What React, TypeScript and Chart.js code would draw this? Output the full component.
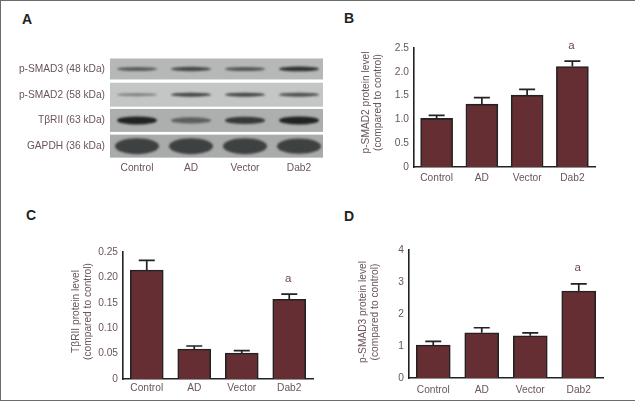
import React, { useEffect, useRef } from "react";
import { Chart, registerables } from "chart.js";

Chart.register(...registerables);

// ---------- data ----------
const groups = ["Control", "AD", "Vector", "Dab2"];

const blotProteins = ["p-SMAD3 (48 kDa)", "p-SMAD2 (58 kDa)", "TβRII (63 kDa)", "GAPDH (36 kDa)"];
const smad3Band = [0.55, 0.7, 0.6, 0.88];
const smad2Band = [0.33, 0.75, 0.75, 0.68];
const tbrBand = [1.0, 0.5, 0.82, 1.0];
const gapdhBand = [1.0, 1.0, 1.0, 0.92];

const smad2Values = [1.02, 1.32, 1.51, 2.11];
const smad2ErrorTop = [1.086, 1.456, 1.63, 2.226];
const smad2Ticks = ["0", "0.5", "1.0", "1.5", "2.0", "2.5"];
const smad2Sig = 2.54;

const tbrValues = [0.2146, 0.059, 0.051, 0.157];
const tbrErrorTop = [0.2337, 0.065, 0.0557, 0.167];
const tbrTicks = ["0", "0.05", "0.10", "0.15", "0.20", "0.25"];
const tbrSig = 0.197;

const smad3Values = [1.03, 1.415, 1.32, 2.72];
const smad3ErrorTop = [1.147, 1.57, 1.41, 2.94];
const smad3Ticks = ["0", "1", "2", "3", "4"];
const smad3Sig = 3.44;

// ---------- style ----------
const FONT = "'Liberation Sans', Arial, sans-serif";
const TEXT = "#6a5558";
const BAR = "#652e33";
const INK = "#222222";
const font = { family: FONT, size: 10.2 };

// plugin: upward error bars and significance letter, read through the scales
const annotations = {
  id: "annotations",
  afterDatasetsDraw(chart: any, _a: any, opts: any) {
    if (!opts.errorTop) return;
    const { ctx, scales } = chart;
    const { x, y } = scales;
    ctx.save();
    ctx.strokeStyle = INK;
    ctx.lineWidth = 1.7;
    opts.errorTop.forEach((top: number, i: number) => {
      const cx = x.getPixelForValue(i);
      const py = y.getPixelForValue(top);
      const by = y.getPixelForValue(chart.data.datasets[0].data[i]);
      ctx.beginPath();
      ctx.moveTo(cx, by);
      ctx.lineTo(cx, py);
      ctx.moveTo(cx - 8, py);
      ctx.lineTo(cx + 8, py);
      ctx.stroke();
    });
    ctx.fillStyle = "#6a474b";
    ctx.font = `11.5px ${FONT}`;
    ctx.textAlign = "center";
    ctx.textBaseline = "middle";
    ctx.fillText("a", x.getPixelForValue(3) - 1, y.getPixelForValue(opts.sig));
    ctx.restore();
  },
};

// plugin: shifts the axis title along the axis
const titleShift = {
  id: "titleShift",
  afterLayout(chart: any, _a: any, opts: any) {
    const s = chart.scales.y;
    if (!opts.dy || s.__shifted) return;
    const orig = s.drawTitle;
    s.drawTitle = function (...args: any[]) {
      chart.ctx.save();
      chart.ctx.translate(0, opts.dy);
      orig.apply(this, args);
      chart.ctx.restore();
    };
    s.__shifted = true;
  },
};

// plugin: western-blot strips, one band per lane, darkness from the band arrays
const stripHalf = [10.5, 12, 11.5, 11.5];
const stripShade = ["#b6b8b7", "#c4c6c5", "#adafae", "#a9abaa"];
const bandThick = [5, 4.5, 8, 16];
const bandWidth = [40, 40, 40, 44];
const bandRows = [smad3Band, smad2Band, tbrBand, gapdhBand];
const blotStrips = {
  id: "blotStrips",
  beforeDatasetsDraw(chart: any) {
    const { ctx, scales, chartArea } = chart;
    const { x, y } = scales;
    ctx.save();
    bandRows.forEach((row, r) => {
      const cy = y.getPixelForValue(r);
      ctx.filter = "none";
      ctx.fillStyle = stripShade[r];
      ctx.fillRect(chartArea.left, cy - stripHalf[r], chartArea.width - 3, stripHalf[r] * 2);
      ctx.filter = "blur(1.2px)";
      row.forEach((v, i) => {
        const isGapdh = r === 3;
        ctx.fillStyle = `rgba(32,34,36,${isGapdh ? 0.78 : Math.min(1, 0.15 + v * 0.85)})`;
        ctx.beginPath();
        ctx.ellipse(
          x.getPixelForValue(i),
          cy,
          bandWidth[r] / 2,
          (bandThick[r] * (0.55 + 0.45 * v)) / 2,
          0,
          0,
          Math.PI * 2
        );
        ctx.fill();
      });
    });
    ctx.restore();
  },
};

type Panel = {
  left: number; top: number; width: number; height: number;
  yWidth: number; xHeight: number; padTop: number; padRight: number; tickPad: number;
  max: number; step: number; thickness: number; dy: number;
  values: number[]; errorTop: number[]; ticks: string[]; sig: number; title: string[];
};

const panels: Panel[] = [
  { left: 355, top: 30, width: 260, height: 160, yWidth: 59, xHeight: 23, padTop: 18, padRight: 20, tickPad: 2,
    max: 2.5, step: 0.5, thickness: 32, dy: -5, values: smad2Values, errorTop: smad2ErrorTop,
    ticks: smad2Ticks, sig: smad2Sig, title: ["p-SMAD2 protein level", "(compared to control)"] },
  { left: 65, top: 235, width: 265, height: 165, yWidth: 58, xHeight: 21, padTop: 17, padRight: 17, tickPad: 0,
    max: 0.25, step: 0.05, thickness: 33, dy: -4, values: tbrValues, errorTop: tbrErrorTop,
    ticks: tbrTicks, sig: tbrSig, title: ["TβRII protein level", "(compared to control)"] },
  { left: 352, top: 235, width: 270, height: 165, yWidth: 57, xHeight: 22, padTop: 15, padRight: 19, tickPad: 3,
    max: 4, step: 1, thickness: 34, dy: -2, values: smad3Values, errorTop: smad3ErrorTop,
    ticks: smad3Ticks, sig: smad3Sig, title: ["p-SMAD3 protein level", "(compared to control)"] },
];

const letters = [
  { t: "A", x: 27, y: 19 },
  { t: "B", x: 349, y: 18 },
  { t: "C", x: 31, y: 215 },
  { t: "D", x: 349, y: 216 },
];

const canvasStyle = (left: number, top: number, width: number, height: number): React.CSSProperties => ({
  position: "absolute", left, top, width, height,
});

export default function App() {
  const blotRef = useRef<HTMLCanvasElement>(null);
  const refs = useRef<(HTMLCanvasElement | null)[]>([]);

  useEffect(() => {
    const charts: Chart[] = [];

    charts.push(
      new Chart(blotRef.current!, {
        type: "bar",
        data: { labels: groups, datasets: [{ data: [], backgroundColor: "transparent" }] },
        plugins: [blotStrips],
        options: {
          responsive: false,
          animation: false,
          layout: { padding: { top: 8, right: 11 } },
          plugins: { legend: { display: false }, tooltip: { enabled: false } },
          scales: {
            x: {
              grid: { display: false, drawTicks: false },
              border: { display: false },
              ticks: { color: TEXT, font, padding: 3, maxRotation: 0 },
              afterFit: (s: any) => { s.height = 21; },
            },
            y: {
              type: "category",
              labels: blotProteins,
              offset: true,
              grid: { display: false, drawTicks: false },
              border: { display: false },
              ticks: { color: TEXT, font, padding: 5, autoSkip: false },
              afterFit: (s: any) => { s.width = 98; },
            },
          },
        },
      } as any)
    );

    panels.forEach((p, idx) => {
      charts.push(
        new Chart(refs.current[idx]!, {
          type: "bar",
          data: {
            labels: groups,
            datasets: [{
              data: p.values,
              backgroundColor: BAR,
              borderColor: INK,
              borderWidth: 1.6,
              barThickness: p.thickness,
            }],
          },
          plugins: [annotations, titleShift],
          options: {
            responsive: false,
            animation: false,
            layout: { padding: { top: p.padTop, right: p.padRight } },
            plugins: {
              legend: { display: false },
              tooltip: { enabled: false },
              annotations: { errorTop: p.errorTop, sig: p.sig },
              titleShift: { dy: p.dy },
            },
            scales: {
              x: {
                grid: { display: false, drawTicks: true, tickLength: 3, tickColor: INK, tickWidth: 1.2 },
                border: { color: INK, width: 1.6 },
                ticks: { color: TEXT, font, padding: p.tickPad, maxRotation: 0 },
                afterFit: (s: any) => { s.height = p.xHeight; },
              },
              y: {
                min: 0,
                max: p.max,
                grid: { display: false, drawTicks: true, tickLength: 5, tickColor: INK, tickWidth: 1.2 },
                border: { color: INK, width: 1.6 },
                ticks: {
                  color: TEXT, font, padding: 0, stepSize: p.step, autoSkip: false,
                  callback: (_v: any, i: number) => p.ticks[i],
                },
                title: {
                  display: true, text: p.title, color: TEXT, font: { ...font, lineHeight: 1.18 },
                  padding: { top: 5, bottom: 0 },
                },
                afterFit: (s: any) => { s.width = p.yWidth; },
              },
            },
          },
        } as any)
      );
    });

    return () => charts.forEach((c) => c.destroy());
  }, []);

  return (
    <div style={{ position: "absolute", left: 0, top: 0, width: 635, height: 402, background: "#fff", overflow: "hidden" }}>
      <div style={{
        position: "absolute", left: 0, top: 0, width: 635, height: 401, boxSizing: "border-box",
        borderTop: "1.5px solid #6b6b6b", borderLeft: "1.5px solid #6b6b6b", borderBottom: "1.5px solid #6b6b6b",
      }} />
      {letters.map((l) => (
        <div key={l.t} style={{
          position: "absolute", left: l.x, top: l.y, transform: "translate(-50%,-50%)",
          font: `bold 14px ${FONT}`, color: "#222",
        }}>{l.t}</div>
      ))}
      <canvas ref={blotRef} width={325} height={135} style={{ ...canvasStyle(12, 45, 325, 135), filter: "blur(0.35px)" }} />
      {panels.map((p, i) => (
        <canvas
          key={i}
          ref={(el) => { refs.current[i] = el; }}
          width={p.width}
          height={p.height}
          style={{ ...canvasStyle(p.left, p.top, p.width, p.height), filter: "blur(0.35px)" }}
        />
      ))}
    </div>
  );
}
